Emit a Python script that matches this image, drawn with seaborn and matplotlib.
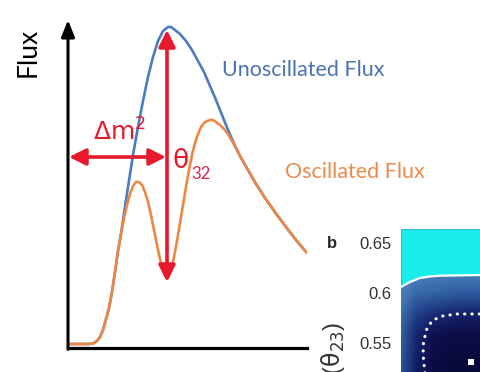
import numpy as np
import seaborn as sns
import matplotlib.pyplot as plt
from matplotlib.colors import LinearSegmentedColormap
from matplotlib.ticker import MultipleLocator, FuncFormatter

sns.set_style("white")
plt.rcParams["font.family"] = ["Lato", "DejaVu Sans"]
plt.rcParams["mathtext.fontset"] = "dejavusans"

# schematic flux curves, arbitrary units (energy, flux)
osc_energy = [0, 20, 25, 29, 32, 35, 38, 41, 44, 47, 50, 53, 56, 59, 62, 65, 68,
              71, 74, 77, 80, 83, 86, 89, 92, 95, 97, 99, 101, 103, 106, 109, 112,
              115, 118, 121, 124, 127, 130, 133, 136, 139, 142, 145, 148, 152, 156,
              160, 164, 168, 172, 176, 180, 184, 188, 192, 197, 202, 209, 218, 228,
              239]
osc_flux = [4, 4, 4.5, 7, 11, 18, 29, 40, 56, 76, 97, 114, 130, 143, 154, 162, 166,
            166, 163, 156, 146, 133, 118, 103, 89, 78, 72, 70, 72, 78, 91, 107, 125,
            143, 161, 178, 193, 205, 214, 221, 225, 227, 228, 228, 226, 223, 219,
            214, 207, 200, 192, 185, 178, 171, 164, 158, 150, 143, 133, 121, 108,
            95]

unosc_energy = [0, 20, 25, 29, 32, 35, 38, 41, 44, 47, 50, 53, 55, 60, 65, 70, 75,
                80, 85, 90, 95, 100, 103, 107, 112, 118, 124, 130, 136, 142, 148,
                154, 160, 164, 168, 172, 176, 180, 184, 188, 192, 197, 202, 209, 218,
                228, 239]
unosc_flux = [4, 4, 4.5, 7, 11, 18, 29, 40, 56, 76, 97, 114, 128, 161, 193, 221, 247,
              271, 291, 307, 317, 321, 321, 318, 314, 307, 298, 287, 276, 262, 248,
              233, 218, 209, 200, 192, 185, 178, 171, 164, 158, 150, 143, 133, 121,
              108, 95]

theta_arrow_x = 99
theta_arrow_y = (66, 318)
dm_arrow_x = (1, 98)
dm_arrow_y = 191

# panel b: delta chi2 map (normalised), sin^2(theta23) vs dm2_32
map_dm2 = [2.287, 2.32, 2.36, 2.42, 2.50, 2.687]
map_s23 = [0.50, 0.53, 0.56, 0.58, 0.60, 0.62, 0.664]
map_chi2 = [
    [0.70, 0.30, 0.05, 0.00, 0.02, 0.02],
    [0.75, 0.30, 0.05, 0.00, 0.02, 0.02],
    [0.80, 0.40, 0.15, 0.08, 0.10, 0.10],
    [0.90, 0.60, 0.45, 0.35, 0.35, 0.35],
    [1.00, 0.85, 0.80, 0.75, 0.75, 0.75],
    [1.00, 1.00, 1.00, 1.00, 1.00, 1.00],
    [1.00, 1.00, 1.00, 1.00, 1.00, 1.00],
]
solid_dm2 = [2.287, 2.307, 2.329, 2.351, 2.373, 2.462, 2.687]
solid_s23 = [0.606, 0.611, 0.615, 0.6165, 0.6173, 0.618, 0.618]
dotted_dm2 = [2.342, 2.340, 2.336, 2.337, 2.345, 2.358, 2.380, 2.411, 2.463, 2.52]
dotted_s23 = [0.50, 0.521, 0.538, 0.551, 0.565, 0.573, 0.577, 0.579, 0.579, 0.578]
best_fit = (2.4425, 0.531)

red = "#e8192c"
blue = "#4a7cc6"
orange = "#ee8743"

fig = plt.figure(figsize=(4.8, 3.72), dpi=100)

# ---- schematic ----
ax = fig.add_axes([68 / 480, 1 - 348 / 372, 239 / 480, 328 / 372])
sns.lineplot(x=unosc_energy, y=unosc_flux, ax=ax, color=blue, lw=1.9, sort=False)
sns.lineplot(x=osc_energy, y=osc_flux, ax=ax, color=orange, lw=1.9, sort=False)
ax.set_xlim(0, 239)
ax.set_ylim(0, 328)
ax.set_xticks([])
ax.set_yticks([])
for s in ["top", "right", "left"]:
    ax.spines[s].set_visible(False)
ax.spines["bottom"].set_linewidth(2.3)
ax.spines["bottom"].set_color("black")
ax.patch.set_alpha(0)

ax.annotate("", xy=(0, 1), xytext=(0, -0.004), xycoords="axes fraction",
            arrowprops=dict(arrowstyle="-|>,head_length=1.0,head_width=0.4",
                            lw=2.2, color="black", shrinkA=0, shrinkB=0,
                            mutation_scale=10), annotation_clip=False)

red_arrow = dict(arrowstyle="<|-|>,head_length=1.0,head_width=0.5", lw=2.6,
                 color=red, shrinkA=0, shrinkB=0, mutation_scale=10)
ax.annotate("", xy=(theta_arrow_x, theta_arrow_y[1]),
            xytext=(theta_arrow_x, theta_arrow_y[0]), arrowprops=red_arrow)
ax.annotate("", xy=(dm_arrow_x[1], dm_arrow_y),
            xytext=(dm_arrow_x[0], dm_arrow_y), arrowprops=red_arrow)

ax.text(25, 207, r"Δm$^{\mathrm{2}}$", color=red, fontsize=18, ha="left",
        va="baseline", family=["DejaVu Sans"])
ax.text(105, 180, "θ", color=red, fontsize=19, ha="left", va="baseline",
        family=["DejaVu Sans"])
ax.text(123, 169, "32", color="#d8284a", fontsize=12, ha="left", va="baseline")
ax.text(154, 278, "Unoscillated Flux", color="#4a73b5", fontsize=15.5,
        ha="left", va="center")
ax.text(217, 176, "Oscillated Flux", color="#ec8a4c", fontsize=15.5,
        ha="left", va="center", clip_on=False)
fig.text(28.5 / 480, 1 - 52.5 / 372, "Flux", rotation=90, fontsize=19,
         ha="center", va="center", color="black")

# ---- panel b (partly off canvas) ----
cmap = LinearSegmentedColormap.from_list(
    "chi", ["#09093a", "#121660", "#1c3580", "#2c5a9e", "#4a80bc"])
bx = fig.add_axes([401 / 480, 1 - 393 / 372, 180 / 480, 164 / 372])
bx.pcolormesh(map_dm2, map_s23, np.array(map_chi2), cmap=cmap, vmin=0, vmax=1,
              shading="gouraud")
bx.fill_between(solid_dm2, solid_s23, 0.664, color="#1aecec", lw=0)
bx.plot(solid_dm2, solid_s23, color="white", lw=1.6)
bx.plot(dotted_dm2, dotted_s23, color="white", lw=2.2,
        linestyle=(0, (0.1, 2.3)), dash_capstyle="round")
bx.plot([best_fit[0]], [best_fit[1]], marker="s", color="white", ms=4, mew=0)
bx.set_xlim(2.287, 2.687)
bx.set_ylim(0.50, 0.664)
for s in bx.spines.values():
    s.set_visible(False)
bx.yaxis.set_major_locator(MultipleLocator(0.05))
bx.yaxis.set_minor_locator(MultipleLocator(0.01))
bx.xaxis.set_major_locator(MultipleLocator(0.1))
bx.xaxis.set_minor_locator(MultipleLocator(0.02))
bx.yaxis.set_major_formatter(FuncFormatter(lambda v, p: f"{v:g}"))
bx.tick_params(which="both", direction="in", top=True, right=False,
               color="#2a2a3a", labelbottom=False)
bx.tick_params(which="major", length=9, width=1)
bx.tick_params(which="minor", length=5, width=1)
bx.tick_params(axis="y", pad=7, labelsize=12, labelcolor="#333333")
for lab in bx.get_yticklabels():
    lab.set_family(["Liberation Sans", "DejaVu Sans"])

fig.text(327 / 480, 1 - 243 / 372, "b", fontsize=12, fontweight="bold",
         ha="left", va="center", family=["Liberation Sans"])
fig.text(333 / 480, 1 - 322 / 372, r"sin$^2$($\mathrm{\theta}_{23}$)", rotation=90,
         fontsize=17, ha="center", va="top", color="#333333",
         family=["Liberation Sans"])

fig.savefig("out.png", dpi=100)
